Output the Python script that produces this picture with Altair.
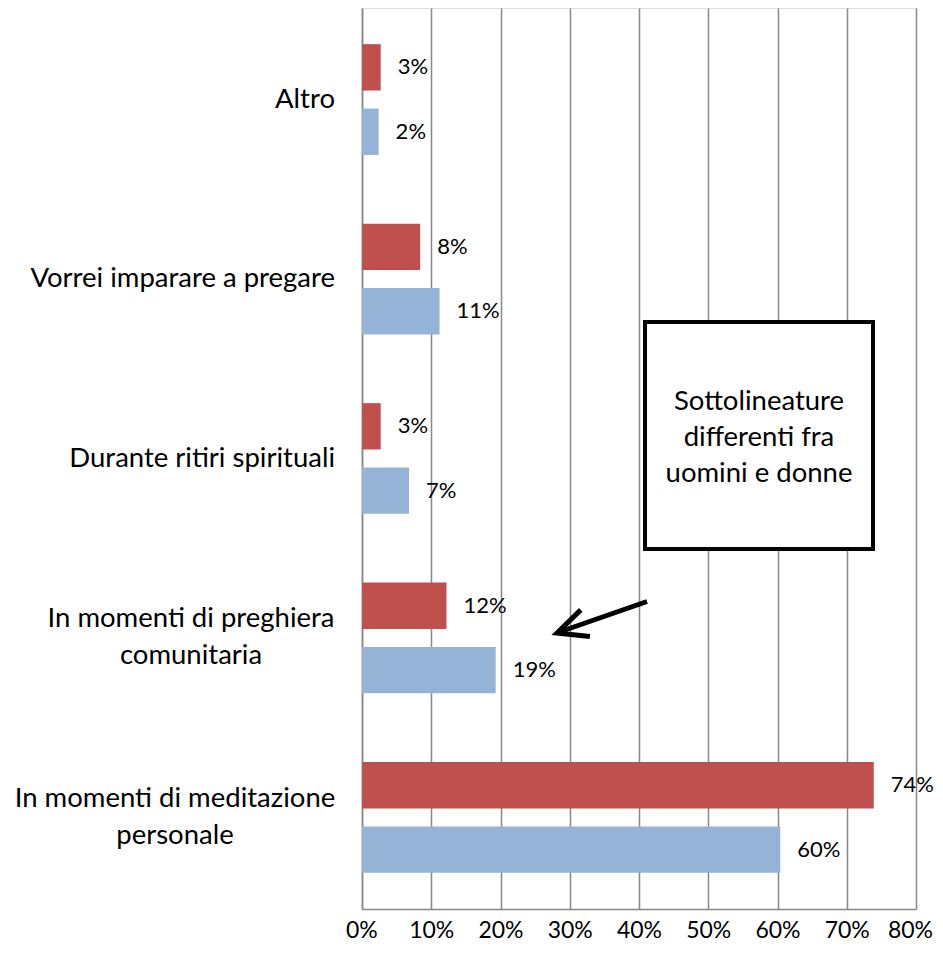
import altair as alt
import pandas as pd

categories = ["Altro", "Vorrei imparare a pregare", "Durante ritiri spirituali",
              "In momenti di preghiera comunitaria", "In momenti di meditazione personale"]
single_line_cats = ["Altro", "Vorrei imparare a pregare", "Durante ritiri spirituali"]
preghiera_label = "In momenti di preghiera\ncomunitaria"
meditazione_label = "In momenti di meditazione\npersonale"
series_names = ["Donne", "Uomini"]
red_values = [2.7, 8.4, 2.7, 12.2, 73.9]
blue_values = [2.4, 11.2, 6.8, 19.3, 60.4]
series_colors = ["#C0504D", "#95B3D7"]
x_ticks = [0, 10, 20, 30, 40, 50, 60, 70, 80]
note_text = "Sottolineature\ndifferenti fra\nuomini e donne"

rows = []
for c, r, b in zip(categories, red_values, blue_values):
    rows.append({"cat": c, "series": series_names[0], "value": r})
    rows.append({"cat": c, "series": series_names[1], "value": b})
df = pd.DataFrame(rows)
df["label"] = df["value"].round(0).astype(int).astype(str) + "%"

FONT = "Lato"
FS_TXT = 27.5
FS_NUM = 22
W, H = 554, 901

y_sc = alt.Scale(domain=categories, paddingInner=0.383, paddingOuter=0.2015)
y_enc = alt.Y("cat:N", sort=categories, title=None, scale=y_sc,
              axis=alt.Axis(labels=False, ticks=False, domain=True, domainColor="#888888",
                            domainWidth=1.5, grid=False))
yoff = alt.YOffset("series:N", sort=series_names, scale=alt.Scale(paddingInner=0.28))
x_enc = alt.X("value:Q", title=None,
              scale=alt.Scale(domain=[0, 80], nice=False),
              axis=alt.Axis(values=x_ticks, labelExpr="datum.value + '%'", grid=True,
                            gridColor="#888888", gridWidth=1.5, domainColor="#888888",
                            domainWidth=1.5, ticks=False, labelPadding=10,
                            labelBaseline="top",
                            labelFontSize=23, labelFont=FONT, labelColor="#000000",
                            labelFlush=True, labelFlushOffset=16.5))

bars = alt.Chart(df).mark_bar().encode(
    x=x_enc, y=y_enc, yOffset=yoff,
    color=alt.Color("series:N", sort=series_names,
                    scale=alt.Scale(domain=series_names, range=series_colors), legend=None),
)
values = alt.Chart(df).mark_text(align="left", baseline="middle", dx=17,
                                 font=FONT, fontSize=FS_NUM, color="#000000").encode(
    x="value:Q", y=alt.Y("cat:N", sort=categories), yOffset=yoff, text="label:N")

single_df = pd.DataFrame({"cat": single_line_cats})
cat_single = alt.Chart(single_df).mark_text(align="right", baseline="middle",
                                            font=FONT, fontSize=FS_TXT,
                                            color="#000000").encode(
    x=alt.value(-27), y=alt.Y("cat:N", sort=categories), text="cat:N")

preg_df = pd.DataFrame({"cat": [categories[3]], "txt": [preghiera_label]})
cat_preg = alt.Chart(preg_df).mark_text(align="center", baseline="middle", lineBreak="\n",
                                        lineHeight=37, dy=-18.5, font=FONT,
                                        fontSize=FS_TXT, color="#000000").encode(
    x=alt.value(-171), y=alt.Y("cat:N", sort=categories), text="txt:N")

med_df = pd.DataFrame({"cat": [categories[4]], "txt": [meditazione_label]})
cat_med = alt.Chart(med_df).mark_text(align="center", baseline="middle", lineBreak="\n",
                                      lineHeight=37, dy=-18.5, font=FONT,
                                      fontSize=FS_TXT, color="#000000").encode(
    x=alt.value(-187), y=alt.Y("cat:N", sort=categories), text="txt:N")

one = pd.DataFrame({"note": [note_text]})
box = alt.Chart(one).mark_rect(fill="white", stroke="black", strokeWidth=4).encode(
    x=alt.value(283), x2=alt.value(511), y=alt.value(314), y2=alt.value(541))
box_text = alt.Chart(one).mark_text(align="center", baseline="middle", lineBreak="\n",
                                    lineHeight=36, dy=-36, font=FONT, fontSize=FS_TXT,
                                    color="#000000").encode(
    x=alt.value(397), y=alt.value(430), text="note:N")
shaft = alt.Chart(one).mark_rule(color="black", strokeWidth=5).encode(
    x=alt.value(285), x2=alt.value(196), y=alt.value(593.5), y2=alt.value(624.5))
head = alt.Chart(one).mark_point(shape="M -0.47 1 L 0 0 L 0.47 1", filled=False,
                                 stroke="black", strokeWidth=5, size=3600,
                                 angle=251, opacity=1).encode(
    x=alt.value(195), y=alt.value(625))

chart = alt.layer(bars, values, cat_single, cat_preg, cat_med, box, box_text,
                  shaft, head).properties(
    width=W, height=H,
    autosize=alt.AutoSizeParams(type="none"),
    padding={"left": 354, "top": 0, "right": 19, "bottom": 38},
).configure_view(stroke=None).configure(background="white")

chart.save("out.html", embed_options={"renderer": "svg", "actions": False})
